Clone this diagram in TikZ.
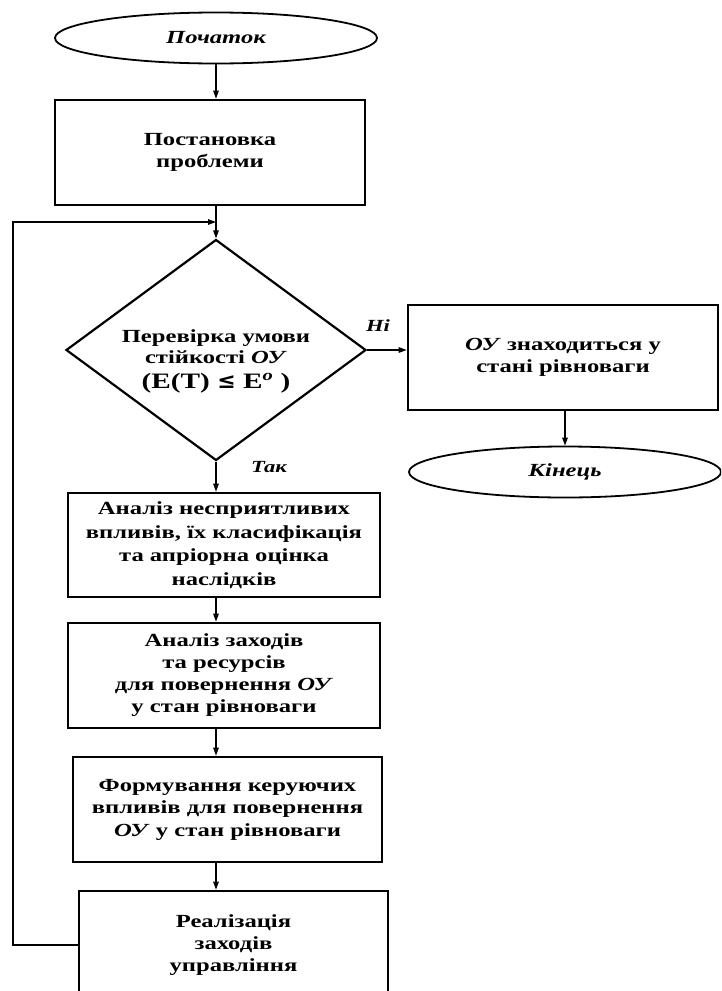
\documentclass[tikz,border=0pt]{standalone}
\usepackage{fontspec}
\setmainfont{Liberation Serif}[FakeStretch=1.33]
\newfontfamily\symfont{DejaVu Serif}
\usetikzlibrary{shapes.geometric, arrows.meta, positioning}

\begin{document}
\begin{tikzpicture}[x=1pt,y=-1pt,
    blockbox/.style={draw, rectangle, line width=2.6pt, minimum width=310pt, minimum height=105pt,
      align=center, inner sep=0pt, font=\bfseries\fontsize{18.5}{22}\selectfont},
    termbox/.style={draw, ellipse, line width=1.8pt, minimum width=322pt, minimum height=51pt,
      inner sep=0pt, font=\bfseries\itshape\fontsize{18.5}{22}\selectfont},
    decbox/.style={draw, diamond, line width=2.2pt, aspect=1.36, minimum width=300pt, minimum height=221pt,
      align=center, inner sep=-15pt, font=\bfseries\fontsize{18.5}{21}\selectfont},
    link/.style={-{Triangle[length=8pt,width=5.5pt]}, line width=1.3pt},
    tag/.style={font=\bfseries\itshape\fontsize{17}{20}\selectfont}]
  \useasboundingbox (0,0) rectangle (721,991);
  \clip (0,0) rectangle (721,991);

  % main column
  \node[termbox] (start) at (216,38) {Початок};
  \node[blockbox] (prob) at (210,152.5) {Постановка\\проблеми};
  \node[decbox] (check) at (216,350) {\rule{0pt}{35pt}Перевірка умови\\стійкості \textit{ОУ}\\[4pt]
    {\fontsize{22}{24}\selectfont (E(T) {\symfont\bfseries ≤} E\textsuperscript{\textit{o}} )}};
  \node[blockbox, minimum width=312pt, minimum height=104pt,
    font=\bfseries\fontsize{18.5}{23.5}\selectfont] (anal) at (224,545)
    {Аналіз несприятливих\\впливів, їх класифікація\\та апріорна оцінка\\наслідків};
  \node[blockbox, minimum width=312pt] (meas) at (224,675.5)
    {Аналіз заходів\\та ресурсів\\для повернення \textit{ОУ}\\у стан рівноваги};
  \node[blockbox, minimum width=309pt, font=\bfseries\fontsize{18.5}{22.5}\selectfont] (form) at (227.5,809.5)
    {Формування керуючих\\впливів для повернення\\\textit{ОУ} у стан рівноваги};
  \node[blockbox, minimum width=309pt, minimum height=108pt] (impl) at (233.5,945)
    {Реалізація\\заходів\\управління};

  % right branch
  \node[blockbox] (stable) at (563,357.5) {\textit{ОУ} знаходиться у\\стані рівноваги};
  \node[termbox, minimum width=312pt] (finish) at (565,472) {Кінець};

  % connectors
  \draw[link] (start.south) -- (start.south |- prob.north);
  \draw[link] (prob.south -| check) -- (check.north);
  \draw[link] (check.south) -- (check.south |- anal.north);
  \draw[link] (anal.south -| check) -- (check |- meas.north);
  \draw[link] (meas.south -| check) -- (check |- form.north);
  \draw[link] (form.south -| check) -- (check |- impl.north);
  \draw[link] (check.east) -- (stable.west |- check.east);
  \draw[link] (stable.south -| finish) -- (finish.north);

  % feedback loop
  \coordinate (loop) at (13,222);
  \coordinate (join) at (check.north |- loop);
  \draw[link] (impl.west) -| (loop) -- (join);

  \node[tag] (no) at (378,326) {Ні};
  \node[tag] (yes) at (269,467) {Так};
\end{tikzpicture}
\end{document}
